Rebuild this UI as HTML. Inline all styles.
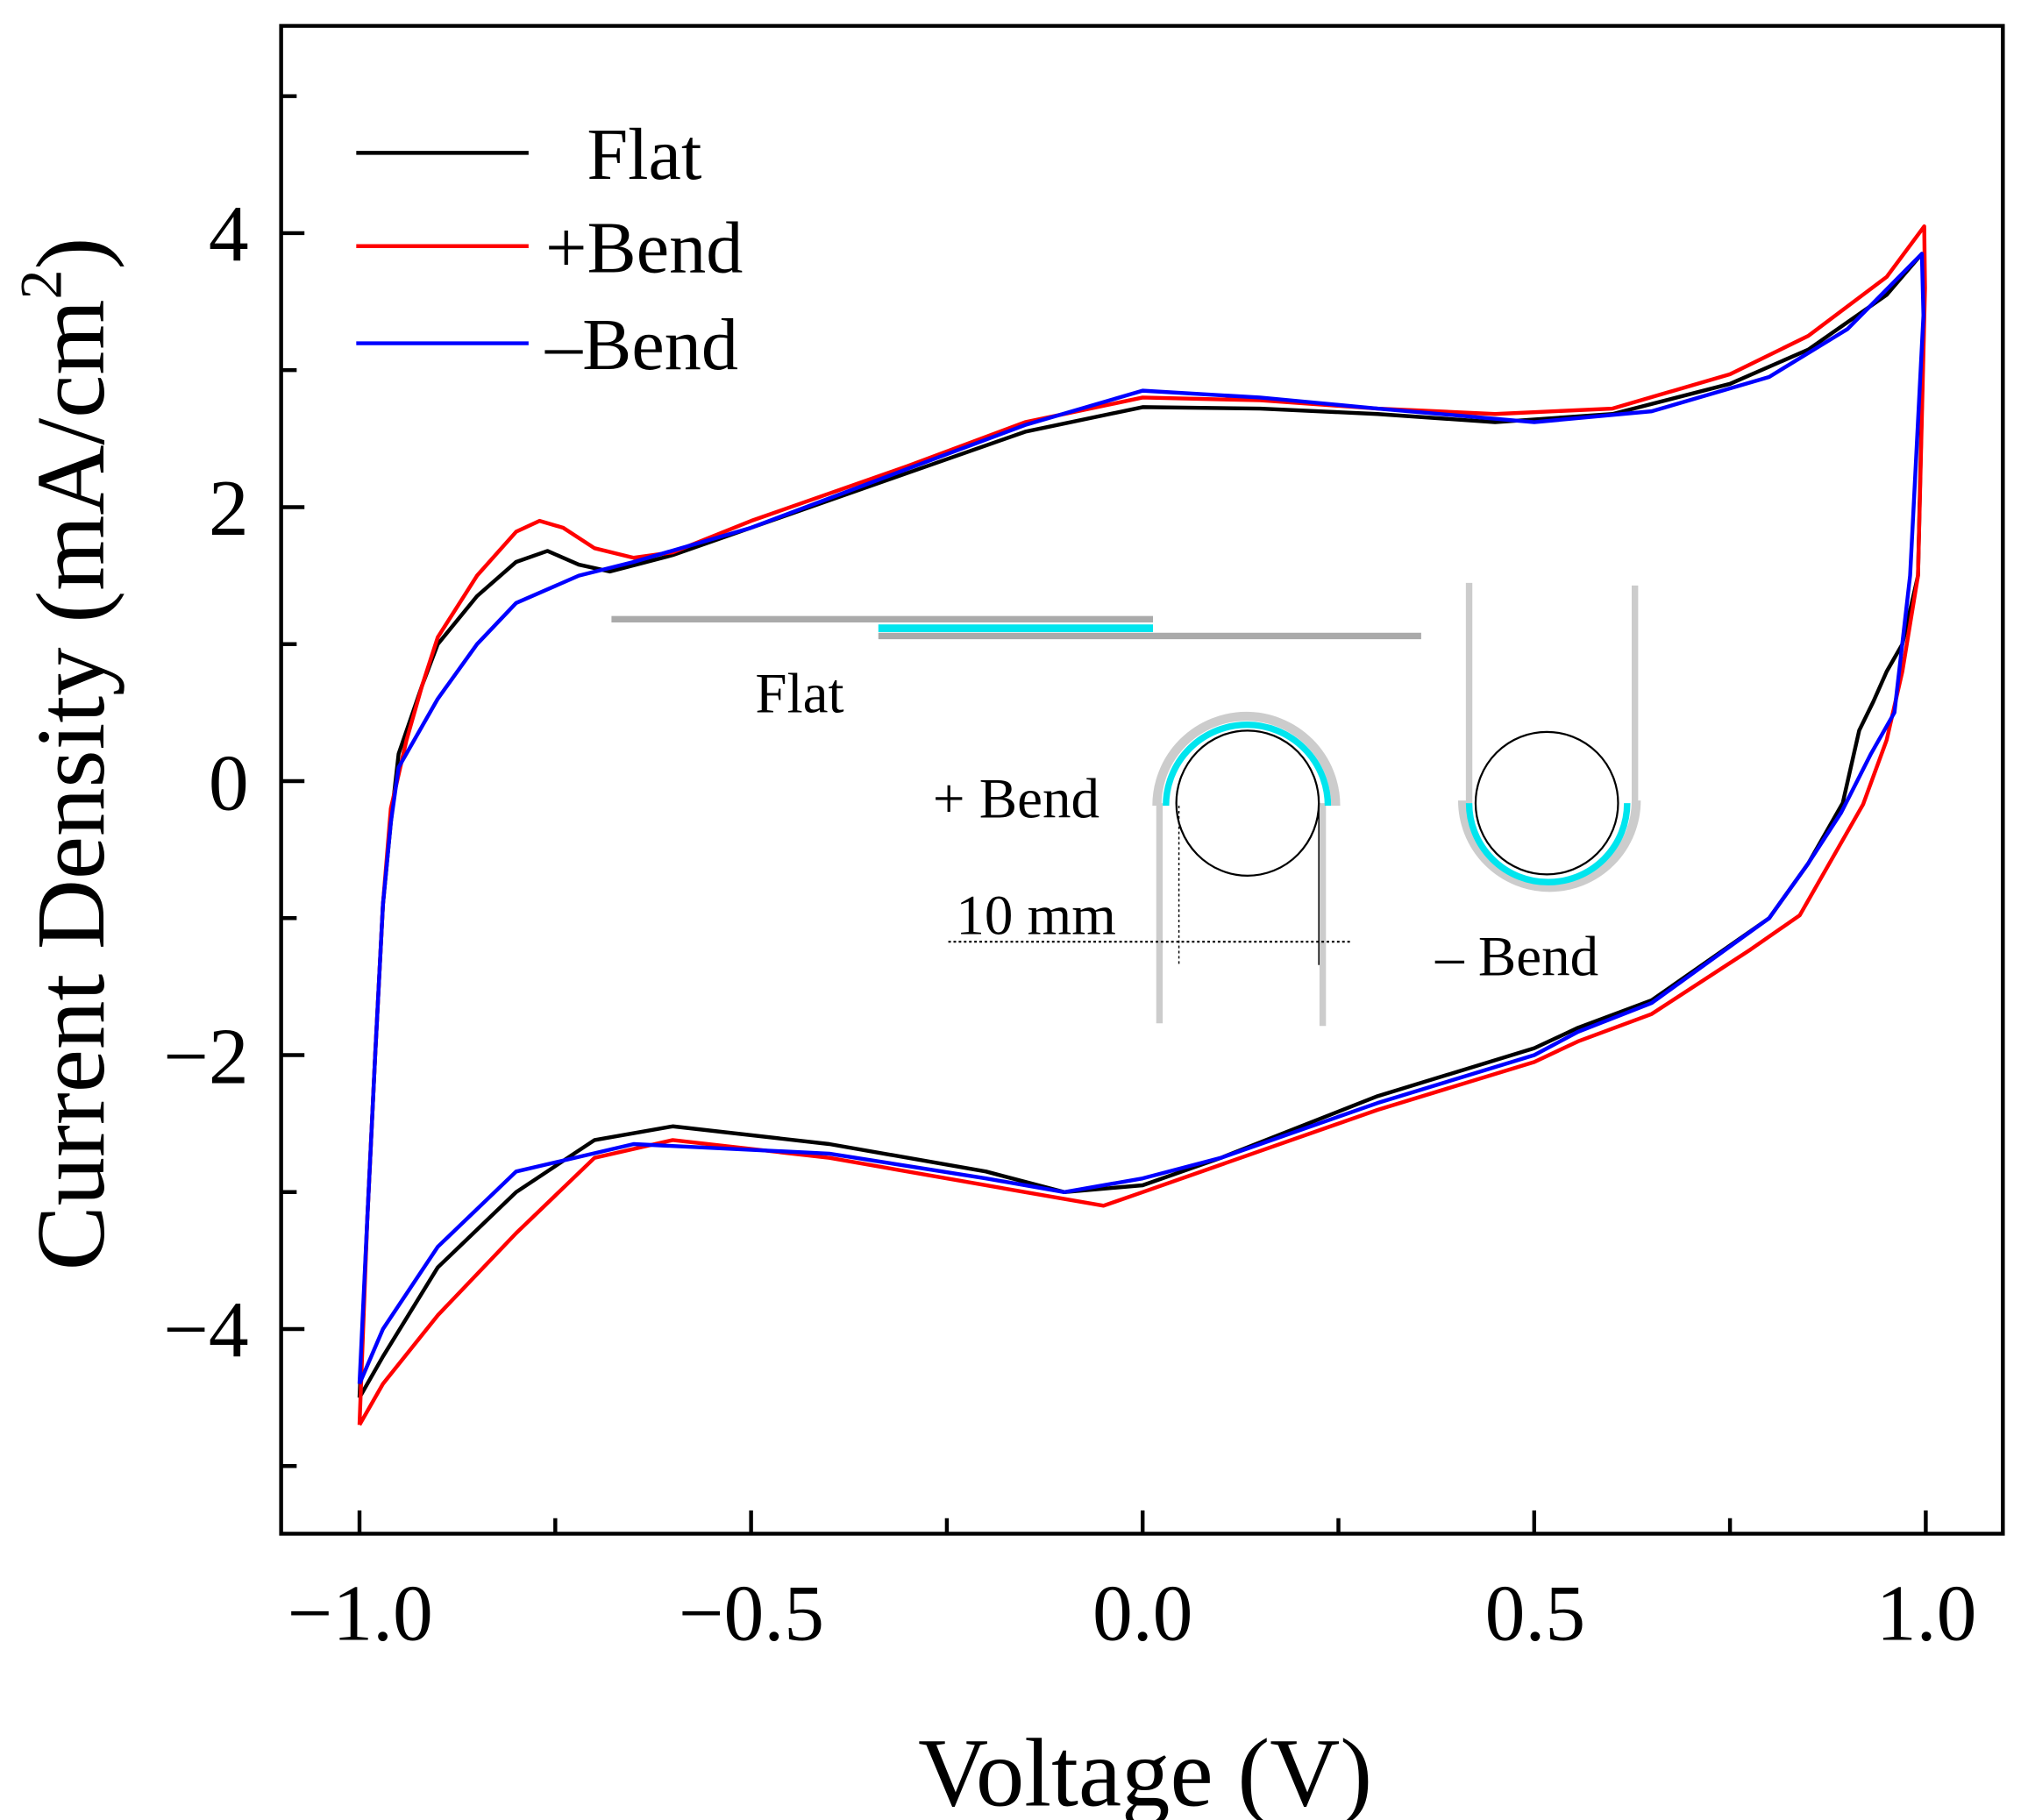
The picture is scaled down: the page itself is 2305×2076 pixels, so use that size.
<!DOCTYPE html>
<html><head><meta charset="utf-8"><style>
html,body{margin:0;padding:0;background:#fff;}
svg{display:block;}
text{font-family:"Liberation Serif",serif;fill:#000;}
</style></head><body>
<svg id="s" width="2305" height="2076" viewBox="0 0 1560 1405" preserveAspectRatio="none" xmlns="http://www.w3.org/2000/svg">
<rect x="217" y="20" width="1329" height="1164" fill="none" stroke="#000" stroke-width="3"/>
<g id="ticks" stroke="#000" stroke-width="3"></g>
<g font-size="62" text-anchor="end">
<text x="192" y="201">4</text><text x="192" y="413">2</text><text x="192" y="625">0</text>
<text x="192" y="836">−2</text><text x="192" y="1047">−4</text>
</g>
<g font-size="62" text-anchor="middle">
<text x="278" y="1266">−1.0</text><text x="580" y="1266">−0.5</text><text x="882" y="1266">0.0</text>
<text x="1185" y="1266">0.5</text><text x="1487" y="1266">1.0</text>
</g>
<text x="884" y="1394" font-size="75" text-anchor="middle">Voltage (V)</text>
<text transform="translate(80,582) rotate(-90)" font-size="75" text-anchor="middle">Current Density (mA/cm<tspan font-size="46" dy="-33">2</tspan><tspan dy="33">)</tspan></text>
<line x1="275" y1="118" x2="408" y2="118" stroke="#000" stroke-width="3"/>
<line x1="275" y1="190" x2="408" y2="190" stroke="#f00" stroke-width="3"/>
<line x1="275" y1="265" x2="408" y2="265" stroke="#00f" stroke-width="3"/>
<g font-size="57"><text x="453" y="138">Flat</text><text x="421" y="210">+Bend</text><text x="421" y="285">–Bend</text></g>
<g fill="none">
<line x1="472" y1="478" x2="890" y2="478" stroke="#aaa" stroke-width="5"/>
<line x1="678" y1="491" x2="1097" y2="491" stroke="#aaa" stroke-width="5"/>
<line x1="678" y1="485" x2="890" y2="485" stroke="#00e5ee" stroke-width="6"/>
<line x1="895" y1="620" x2="895" y2="790" stroke="#ccc" stroke-width="5"/>
<line x1="1021" y1="620" x2="1021" y2="792" stroke="#ccc" stroke-width="5"/>
<path d="M893 622 A67 67 0 0 1 1031 622" stroke="#ccc" stroke-width="7"/>
<path d="M900 622 A62 62 0 0 1 1025 622" stroke="#00e5ee" stroke-width="5"/>
<ellipse cx="963" cy="620" rx="55" ry="56" stroke="#000" stroke-width="1.5"/>
<line x1="732" y1="727" x2="1043" y2="727" stroke="#000" stroke-width="1.5" stroke-dasharray="2 2"/>
<line x1="910" y1="622" x2="910" y2="745" stroke="#000" stroke-width="1" stroke-dasharray="2 2"/>
<line x1="1018" y1="622" x2="1018" y2="745" stroke="#000" stroke-width="1"/>
<line x1="1134" y1="450" x2="1134" y2="620" stroke="#ccc" stroke-width="5"/>
<line x1="1262" y1="452" x2="1262" y2="620" stroke="#ccc" stroke-width="5"/>
<path d="M1129 618 A67 67 0 0 0 1263 618" stroke="#ccc" stroke-width="7"/>
<path d="M1134 620 A60 60 0 0 0 1256 620" stroke="#00e5ee" stroke-width="5"/>
<ellipse cx="1194" cy="620" rx="55" ry="55" stroke="#000" stroke-width="1.5"/>
</g>
<g font-size="44"><text x="583" y="550">Flat</text><text x="720" y="631">+ Bend</text><text x="738" y="721">10 mm</text><text x="1108" y="753">– Bend</text></g>
<g id="curves" fill="none" stroke-width="3" stroke-linejoin="round"></g>
</svg>
<script>
var NS="http://www.w3.org/2000/svg";
function X(v){return 882+604.5*v}function Y(j){return 603-105.75*j}
var t=document.getElementById('ticks'),d='';
for(var k=-5;k<=5;k++){var y=Y(k);d+='M217 '+y+'h'+(k%2==0?18:12);}
for(var v=-1;v<=1.001;v+=0.25){var x=X(v);d+='M'+x+' 1184v-'+(Math.abs(Math.round(v*4))%2==0?18:12);}
var p=document.createElementNS(NS,'path');p.setAttribute('d',d);t.appendChild(p);
var series=[
['#000',[[-1,-4.5],[-0.99,-3.2],[-0.98,-2],[-0.97,-0.9],[-0.96,-0.3],[-0.95,0.2],[-0.92,0.7],[-0.9,1.0],[-0.85,1.35],[-0.8,1.6],[-0.76,1.68],[-0.72,1.58],[-0.68,1.53],[-0.6,1.65],[-0.5,1.85],[-0.3,2.25],[-0.15,2.55],[0,2.73],[0.15,2.72],[0.3,2.68],[0.45,2.62],[0.6,2.68],[0.75,2.9],[0.85,3.15],[0.95,3.55],[0.995,3.85],[0.998,3.5],[0.99,1.5],[0.97,1.0],[0.95,0.8],[0.933,0.58],[0.915,0.37],[0.894,-0.16],[0.85,-0.6],[0.8,-1.0],[0.65,-1.6],[0.556,-1.8],[0.5,-1.95],[0.3,-2.3],[0.1,-2.75],[0,-2.95],[-0.1,-3.0],[-0.2,-2.85],[-0.4,-2.65],[-0.6,-2.52],[-0.7,-2.62],[-0.8,-3.0],[-0.9,-3.55],[-0.97,-4.2],[-1,-4.5]]],
['#f00',[[-1,-4.7],[-0.99,-3.2],[-0.98,-2],[-0.97,-0.9],[-0.96,-0.2],[-0.94,0.3],[-0.92,0.7],[-0.9,1.05],[-0.85,1.5],[-0.8,1.82],[-0.77,1.9],[-0.74,1.85],[-0.7,1.7],[-0.65,1.63],[-0.6,1.67],[-0.5,1.9],[-0.3,2.3],[-0.15,2.62],[0,2.8],[0.15,2.78],[0.3,2.72],[0.45,2.68],[0.6,2.72],[0.75,2.97],[0.85,3.25],[0.95,3.68],[0.998,4.05],[0.999,3.6],[0.99,1.5],[0.97,0.8],[0.95,0.3],[0.92,-0.17],[0.839,-0.98],[0.776,-1.23],[0.65,-1.7],[0.556,-1.9],[0.5,-2.05],[0.3,-2.4],[0.1,-2.8],[0,-3.0],[-0.05,-3.1],[-0.15,-3.0],[-0.4,-2.75],[-0.6,-2.62],[-0.7,-2.75],[-0.8,-3.3],[-0.9,-3.9],[-0.97,-4.4],[-1,-4.7]]],
['#00f',[[-1,-4.4],[-0.99,-3.2],[-0.98,-2],[-0.97,-0.9],[-0.96,-0.3],[-0.95,0.1],[-0.9,0.6],[-0.85,1.0],[-0.8,1.3],[-0.72,1.5],[-0.65,1.6],[-0.5,1.85],[-0.3,2.28],[-0.15,2.6],[0,2.85],[0.15,2.8],[0.3,2.72],[0.5,2.62],[0.65,2.7],[0.8,2.95],[0.9,3.3],[0.995,3.85],[0.997,3.4],[0.98,1.5],[0.96,0.5],[0.93,0.2],[0.892,-0.23],[0.85,-0.6],[0.8,-1.0],[0.65,-1.62],[0.556,-1.83],[0.5,-2.0],[0.3,-2.35],[0.1,-2.75],[0,-2.9],[-0.1,-3.0],[-0.2,-2.9],[-0.4,-2.72],[-0.65,-2.65],[-0.8,-2.85],[-0.9,-3.4],[-0.97,-4.0],[-1,-4.4]]]];
var c=document.getElementById('curves');
series.forEach(function(s){var q=document.createElementNS(NS,'path');
q.setAttribute('d','M'+s[1].map(function(a){return X(a[0]).toFixed(1)+' '+Y(a[1]).toFixed(1)}).join(' L'));
q.setAttribute('stroke',s[0]);c.appendChild(q);});
</script>
</body></html>
